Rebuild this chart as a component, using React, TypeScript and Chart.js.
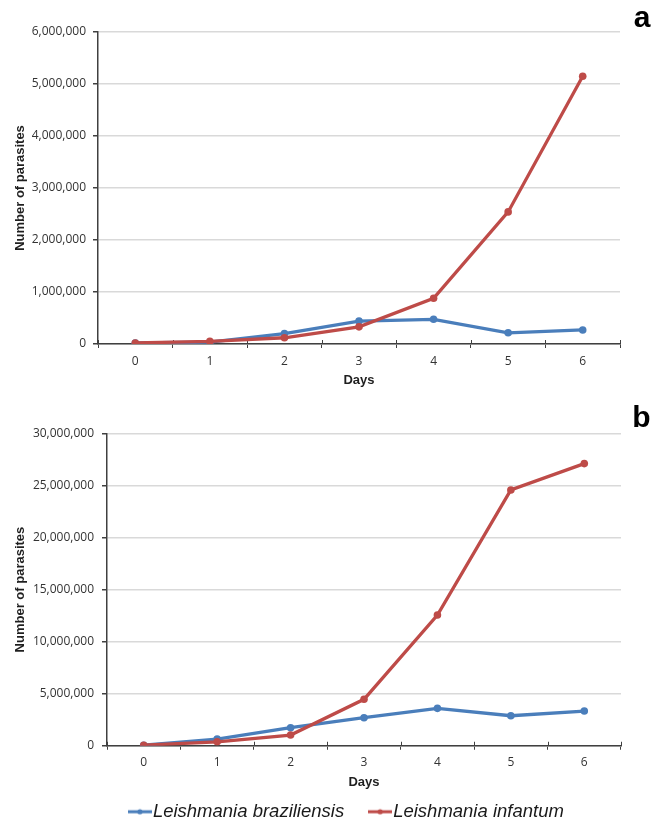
import React, { useEffect, useRef } from 'react';
import { Chart, registerables } from 'chart.js';

Chart.register(...registerables);

// ---- data ----
const days = ['0', '1', '2', '3', '4', '5', '6'];
const seriesNames = ['Leishmania braziliensis', 'Leishmania infantum'];

const braziliensisA = [20000, 35000, 200000, 440000, 475000, 215000, 270000];
const infantumA = [20000, 50000, 120000, 330000, 880000, 2540000, 5150000];

const braziliensisB = [50000, 640000, 1730000, 2690000, 3590000, 2880000, 3330000];
const infantumB = [50000, 380000, 1030000, 4460000, 12550000, 24560000, 27090000];

const yMaxA = 6000000;
const yStepA = 1000000;
const yMaxB = 30000000;
const yStepB = 5000000;

const panelLabels = ['a', 'b'];
const xTitle = 'Days';
const yTitle = 'Number of parasites';

// ---- styles ----
const BLUE = '#4a7ebb';
const RED = '#be4b48';
const AXIS = '#404040';
const GRID = '#d9d9d9';
const TICK_TEXT = '#333333';
const TITLE_TEXT = '#1f1f1f';

function legendSample(color: string) {
  const c = document.createElement('canvas');
  c.width = 24;
  c.height = 8;
  const ctx = c.getContext('2d')!;
  ctx.strokeStyle = color;
  ctx.lineWidth = 3;
  ctx.beginPath();
  ctx.moveTo(0, 4);
  ctx.lineTo(24, 4);
  ctx.stroke();
  ctx.fillStyle = color;
  ctx.beginPath();
  ctx.arc(12, 4, 2.6, 0, Math.PI * 2);
  ctx.fill();
  return c;
}

// upper half of the category tick marks (Excel style "cross" ticks)
const xTicksUp = {
  id: 'xTicksUp',
  beforeDatasetsDraw(chart: any) {
    const xs = chart.scales.x;
    const ctx = chart.ctx;
    const bottom = chart.chartArea.bottom;
    ctx.save();
    ctx.strokeStyle = AXIS;
    ctx.lineWidth = 1;
    for (let i = 0; i <= xs.ticks.length; i++) {
      const x = Math.round(xs.getPixelForValue(i - 0.5)) + 0.5;
      ctx.beginPath();
      ctx.moveTo(x, bottom - 4);
      ctx.lineTo(x, bottom);
      ctx.stroke();
    }
    ctx.restore();
  },
};

// panel letter at the top right of the plot
const panelLabel = {
  id: 'panelLabel',
  afterDraw(chart: any, _args: any, opts: any) {
    if (!opts || !opts.text) return;
    const { ctx, chartArea } = chart;
    ctx.save();
    ctx.font = 'bold 30px "Liberation Sans"';
    ctx.fillStyle = '#000000';
    ctx.textAlign = 'right';
    ctx.textBaseline = 'alphabetic';
    ctx.fillText(opts.text, chartArea.right + opts.dx, chartArea.top - opts.dy);
    ctx.restore();
  },
};

interface PanelOpts {
  blue: number[];
  red: number[];
  yMax: number;
  yStep: number;
  label: string;
  labelDx: number;
  labelDy: number;
  padTop: number;
  yWidth: number;
  yTitlePadTop: number;
  yTickPad: number;
  rightWidth: number;
  xHeight: number;
  xTickPad: number;
  xTitlePadBottom: number;
  showLegend: boolean;
}

function makeConfig(o: PanelOpts): any {
  const samples = [legendSample(BLUE), legendSample(RED)];
  const ds = (label: string, data: number[], color: string, order: number) => ({
    label,
    data,
    borderColor: color,
    backgroundColor: color,
    pointBackgroundColor: color,
    pointBorderWidth: 0,
    pointRadius: 3.8,
    borderWidth: 3.3,
    tension: 0,
    order,
  });
  return {
    type: 'line',
    data: {
      labels: days,
      datasets: [ds(seriesNames[0], o.blue, BLUE, 1), ds(seriesNames[1], o.red, RED, 0)],
    },
    options: {
      responsive: false,
      animation: false,
      events: [],
      layout: { padding: { left: 0, right: 0, top: o.padTop, bottom: 0 } },
      plugins: {
        tooltip: { enabled: false },
        title: { display: false },
        panelLabel: { text: o.label, dx: o.labelDx, dy: o.labelDy },
        legend: {
          display: o.showLegend,
          position: 'bottom',
          align: 'center',
          labels: {
            usePointStyle: true,
            pointStyleWidth: 7.5,
            padding: 32.25,
            color: '#1a1a1a',
            font: { family: 'Liberation Sans', size: 18.5, style: 'italic' },
            sort: (a: any, b: any) => a.datasetIndex - b.datasetIndex,
            generateLabels: (chart: any) =>
              Chart.defaults.plugins.legend.labels
                .generateLabels(chart)
                .map((it: any) => ({ ...it, pointStyle: samples[it.datasetIndex] })),
          },
        },
      },
      scales: {
        x: {
          type: 'category',
          offset: true,
          grid: {
            display: true,
            drawOnChartArea: false,
            drawTicks: true,
            tickLength: 4,
            tickColor: AXIS,
            offset: true,
          },
          border: { color: AXIS, width: 1.5 },
          ticks: {
            color: TICK_TEXT,
            padding: o.xTickPad,
            font: { family: 'Open Sans', size: 12 },
          },
          title: {
            display: true,
            text: xTitle,
            color: TITLE_TEXT,
            font: { family: 'Liberation Sans', size: 13, weight: 'bold' },
            padding: { top: 0, bottom: o.xTitlePadBottom },
          },
          afterFit: (s: any) => {
            s.height = o.xHeight;
          },
        },
        y: {
          type: 'linear',
          min: 0,
          max: o.yMax,
          grid: {
            color: GRID,
            lineWidth: 1.5,
            tickColor: AXIS,
            tickLength: 5,
          },
          border: { color: AXIS, width: 1.5 },
          ticks: {
            stepSize: o.yStep,
            color: TICK_TEXT,
            padding: o.yTickPad,
            font: { family: 'Open Sans', size: 12 },
            callback: (v: any) => Number(v).toLocaleString('en-US'),
          },
          title: {
            display: true,
            text: yTitle,
            color: TITLE_TEXT,
            font: { family: 'Liberation Sans', size: 13, weight: 'bold' },
            padding: { top: o.yTitlePadTop, bottom: 0 },
          },
          afterFit: (s: any) => {
            s.width = o.yWidth;
          },
        },
        spacer: {
          type: 'linear',
          position: 'right',
          display: true,
          grid: { display: false },
          border: { display: false },
          ticks: { display: false },
          afterFit: (s: any) => {
            s.width = o.rightWidth;
          },
        },
      },
    },
    plugins: [xTicksUp, panelLabel],
  };
}

export default function App() {
  const refA = useRef<HTMLCanvasElement>(null);
  const refB = useRef<HTMLCanvasElement>(null);

  useEffect(() => {
    const a = new Chart(
      refA.current!,
      makeConfig({
        blue: braziliensisA,
        red: infantumA,
        yMax: yMaxA,
        yStep: yStepA,
        label: panelLabels[0],
        labelDx: 30.5,
        labelDy: 5.3,
        padTop: 32,
        yWidth: 98,
        yTitlePadTop: 12.2,
        yTickPad: 7,
        rightWidth: 31,
        xHeight: 51,
        xTickPad: 6.5,
        xTitlePadBottom: 7.2,
        showLegend: false,
      })
    );
    const b = new Chart(
      refB.current!,
      makeConfig({
        blue: braziliensisB,
        red: infantumB,
        yMax: yMaxB,
        yStep: yStepB,
        label: panelLabels[1],
        labelDx: 29.5,
        labelDy: 6.6,
        padTop: 38.3,
        yWidth: 107,
        yTitlePadTop: 12.9,
        yTickPad: 8,
        rightWidth: 79,
        xHeight: 24.5,
        xTickPad: 5.8,
        xTitlePadBottom: -19.9,
        showLegend: true,
      })
    );
    return () => {
      a.destroy();
      b.destroy();
    };
  }, []);

  return (
    <div
      style={{
        position: 'absolute',
        left: 0,
        top: 0,
        width: 651,
        height: 819,
        overflow: 'hidden',
        background: '#ffffff',
      }}
    >
      <canvas
        ref={refA}
        width={651}
        height={395}
        style={{ position: 'absolute', left: 0, top: 0, width: 651, height: 395 }}
      />
      <canvas
        ref={refB}
        width={700}
        height={436}
        style={{ position: 'absolute', left: 0, top: 395, width: 700, height: 436 }}
      />
    </div>
  );
}
